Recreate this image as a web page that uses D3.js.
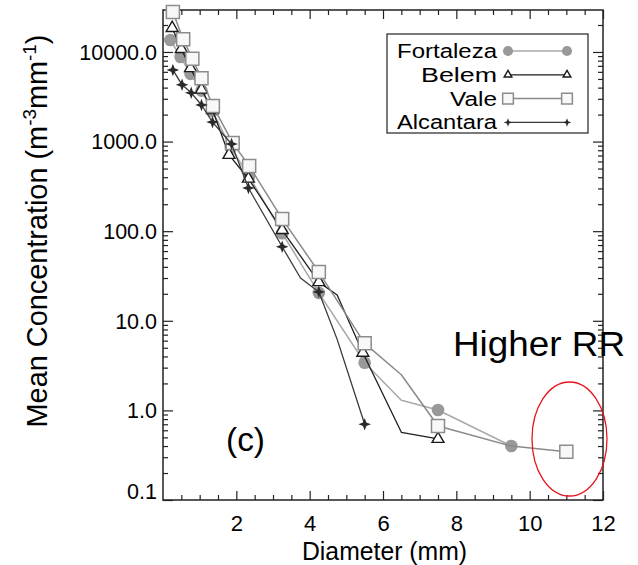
<!DOCTYPE html>
<html>
<head>
<meta charset="utf-8">
<script src="https://cdn.jsdelivr.net/npm/d3@7"></script>
<style>
  html, body { margin: 0; padding: 0; background: #fff; }
  svg { display: block; }
  text { font-family: "Liberation Sans", Arial, Helvetica, sans-serif; fill: #000; }
</style>
</head>
<body>
<svg id="chart" width="638" height="565"></svg>
<script>
// Mean drop size distributions by site (diameter in mm, concentration in m^-3 mm^-1)
const fortalezaDiam = [0.2, 0.48, 0.75, 1.05, 1.35, 1.85, 2.35, 3.25, 4.25, 5.5, 6.5, 7.5, 9.5];
const fortalezaConc = [13600, 8800, 5700, 3700, 2200, 850, 410, 95, 20.5, 3.4, 1.3, 1.01, 0.40];
const fortalezaMark = [1, 1, 1, 1, 1, 1, 1, 1, 1, 1, 0, 1, 1];

const belemDiam = [0.25, 0.5, 0.75, 1.05, 1.35, 1.8, 2.33, 3.25, 4.25, 4.75, 5.45, 6.5, 7.5];
const belemConc = [18500, 10800, 6600, 3800, 2250, 710, 385, 103, 27, 19.4, 4.4, 0.57, 0.48];
const belemMark = [1, 1, 1, 1, 1, 1, 1, 1, 1, 0, 1, 0, 1];

const valeDiam = [0.27, 0.55, 0.8, 1.05, 1.36, 1.9, 2.35, 3.25, 4.25, 5.5, 6.5, 7.5, 9.5, 11];
const valeConc = [27900, 13900, 8400, 5100, 2500, 965, 535, 137, 35, 5.6, 2.5, 0.67, 0.40, 0.345];
const valeMark = [1, 1, 1, 1, 1, 1, 1, 1, 1, 1, 0, 1, 0, 1];

const alcantaraDiam = [0.27, 0.52, 0.77, 1.05, 1.35, 1.87, 2.33, 3.25, 3.75, 4.25, 4.75, 5.5];
const alcantaraConc = [6300, 4300, 3500, 2560, 1650, 940, 303, 67, 30, 21, 6.2, 0.70];
const alcantaraMark = [1, 1, 1, 1, 1, 1, 1, 1, 0, 1, 0, 1];

const seriesNames = ["Fortaleza", "Belem", "Vale", "Alcantara"];
const xTicks = [2, 4, 6, 8, 10, 12];
const yTicks = [0.1, 1, 10, 100, 1000, 10000];
const yTickLabels = ["0.1", "1.0", "10.0", "100.0", "1000.0", "10000.0"];

// Four-pointed star symbol
const symbolStar4 = {
  draw(context, size) {
    const r = Math.sqrt(size) * 0.95;
    const ri = r * 0.38;
    for (let i = 0; i < 8; i++) {
      const a = -Math.PI / 2 + i * Math.PI / 4;
      const rr = i % 2 === 0 ? r : ri;
      const px = Math.cos(a) * rr, py = Math.sin(a) * rr;
      if (i === 0) context.moveTo(px, py); else context.lineTo(px, py);
    }
    context.closePath();
  }
};

const styles = {
  Fortaleza: { line: "#a8a8a8", lw: 1.5, type: d3.symbolCircle, size: 125, fill: "#999", stroke: "none", sw: 0, lsize: 80 },
  Belem:     { line: "#1e1e1e", lw: 1.3, type: d3.symbolTriangle, size: 62, fill: "#fff", stroke: "#1a1a1a", sw: 1.4, lsize: 26 },
  Vale:      { line: "#8a8a8a", lw: 1.5, type: d3.symbolSquare, size: 170, fill: "#f8f8f8", stroke: "#8c8c8c", sw: 1.5, lsize: 115 },
  Alcantara: { line: "#3a3a3a", lw: 1.3, type: symbolStar4, size: 44, fill: "#2a2a2a", stroke: "none", sw: 0, lsize: 20 }
};

const data = {
  Fortaleza: d3.zip(fortalezaDiam, fortalezaConc, fortalezaMark),
  Belem: d3.zip(belemDiam, belemConc, belemMark),
  Vale: d3.zip(valeDiam, valeConc, valeMark),
  Alcantara: d3.zip(alcantaraDiam, alcantaraConc, alcantaraMark)
};

const svg = d3.select("#chart");
const plotLeft = 163, plotRight = 603, plotTop = 10, plotBottom = 500;

const x = d3.scaleLinear().domain([0, 12]).range([plotLeft, plotRight]);
const y = d3.scaleLog().domain([0.1, 29400]).range([plotBottom, plotTop]);

const axisColor = "#222";

// Stretch a text element's glyphs to a given width
function fitWidth(sel, w) {
  sel.attr("textLength", w).attr("lengthAdjust", "spacingAndGlyphs");
}

// Minor tick values
const xMinor = d3.range(0.5, 12, 0.5).filter(v => v % 2 !== 0);
const yMinor = [];
for (let e = -1; e < 5; e++) for (let m = 2; m <= 9; m++) {
  const v = m * Math.pow(10, e);
  if (v < 29400) yMinor.push(v);
}

function styleAxis(g) {
  g.select(".domain").remove();
  g.selectAll(".tick line").attr("stroke", axisColor).attr("stroke-width", 1.2);
}

// Bottom axis
const gx = svg.append("g").attr("transform", `translate(0,${plotBottom})`)
  .call(d3.axisBottom(x).tickValues(xTicks).tickSize(-9).tickPadding(15).tickFormat(d3.format("d")))
  .call(styleAxis);
gx.selectAll(".tick text").attr("font-size", 22).attr("font-family", "Liberation Sans, Arial, sans-serif");
svg.append("g").attr("transform", `translate(0,${plotBottom})`)
  .call(d3.axisBottom(x).tickValues(xMinor).tickSize(-5).tickFormat(""))
  .call(styleAxis);

// Top axis
svg.append("g").attr("transform", `translate(0,${plotTop})`)
  .call(d3.axisTop(x).tickValues(xTicks).tickSize(-9).tickFormat(""))
  .call(styleAxis);
svg.append("g").attr("transform", `translate(0,${plotTop})`)
  .call(d3.axisTop(x).tickValues(xMinor).tickSize(-5).tickFormat(""))
  .call(styleAxis);

// Left axis
const gy = svg.append("g").attr("transform", `translate(${plotLeft},0)`)
  .call(d3.axisLeft(y).tickValues(yTicks).tickSize(-10).tickPadding(6)
    .tickFormat((d, i) => yTickLabels[i]))
  .call(styleAxis);
gy.selectAll(".tick text").attr("font-size", 21.5).attr("font-family", "Liberation Sans, Arial, sans-serif")
  .attr("dy", (d) => d === 0.1 ? "-0.05em" : "0.34em");
svg.append("g").attr("transform", `translate(${plotLeft},0)`)
  .call(d3.axisLeft(y).tickValues(yMinor).tickSize(-5).tickFormat(""))
  .call(styleAxis);

// Right axis
svg.append("g").attr("transform", `translate(${plotRight},0)`)
  .call(d3.axisRight(y).tickValues(yTicks).tickSize(-10).tickFormat(""))
  .call(styleAxis);
svg.append("g").attr("transform", `translate(${plotRight},0)`)
  .call(d3.axisRight(y).tickValues(yMinor).tickSize(-5).tickFormat(""))
  .call(styleAxis);

// Plot frame
svg.append("rect")
  .attr("x", plotLeft).attr("y", plotTop).attr("width", plotRight - plotLeft).attr("height", plotBottom - plotTop)
  .attr("fill", "none").attr("stroke", axisColor).attr("stroke-width", 1.5);

// Series lines and markers
const plot = svg.append("g");
const line = d3.line().x(d => x(d[0])).y(d => y(d[1]));
seriesNames.forEach(name => {
  const s = styles[name];
  const g = plot.append("g");
  g.append("path").datum(data[name])
    .attr("d", line).attr("fill", "none")
    .attr("stroke", s.line).attr("stroke-width", s.lw).attr("stroke-linejoin", "round");
  g.selectAll("path.mk").data(data[name].filter(d => d[2]))
    .join("path").attr("class", "mk")
    .attr("transform", d => `translate(${x(d[0])},${y(d[1])})`)
    .attr("d", d3.symbol(s.type, s.size))
    .attr("fill", s.fill).attr("stroke", s.stroke).attr("stroke-width", s.sw);
});

// Legend
const legendWidths = [100, 76, 47, 100];
const legend = svg.append("g");
legend.append("rect").attr("x", 387).attr("y", 34).attr("width", 201).attr("height", 99)
  .attr("fill", "#fff").attr("stroke", "#333").attr("stroke-width", 1.3);
seriesNames.forEach((name, i) => {
  const s = styles[name];
  const ly = 51 + i * 23.8;
  legend.append("text").attr("x", 497 - legendWidths[i]).attr("y", ly).attr("dy", "0.36em")
    .attr("font-size", 19.5).text(name)
    .call(fitWidth, legendWidths[i]);
  legend.append("line").attr("x1", 508).attr("x2", 567).attr("y1", ly).attr("y2", ly)
    .attr("stroke", s.line).attr("stroke-width", s.lw);
  [508, 567].forEach(lx => {
    legend.append("path").attr("transform", `translate(${lx},${ly})`)
      .attr("d", d3.symbol(s.type, s.lsize))
      .attr("fill", s.fill).attr("stroke", s.stroke).attr("stroke-width", s.sw);
  });
});

// Axis titles
svg.append("text").attr("x", 302).attr("y", 560)
  .attr("font-size", 25).text("Diameter (mm)")
  .call(fitWidth, 165);
const yt = svg.append("text").attr("transform", "translate(47,231) rotate(-90)")
  .attr("text-anchor", "middle").attr("font-size", 26);
yt.append("tspan").text("Mean Concentration (m");
yt.append("tspan").attr("font-size", 17).attr("dy", "-0.6em").text("-3");
yt.append("tspan").attr("dy", "0.39em").text("mm");
yt.append("tspan").attr("font-size", 17).attr("dy", "-0.6em").text("-1");
yt.append("tspan").attr("dy", "0.39em").text(")");
// scale the title so it spans the full label height
const ytLen = yt.node().getComputedTextLength();
yt.attr("font-size", 26 * 393 / ytLen);
yt.selectAll("tspan").filter((d, i) => i === 1 || i === 3).attr("font-size", 17 * 393 / ytLen);

// Panel label and annotation
svg.append("text").attr("x", 226).attr("y", 451)
  .attr("font-family", "Lato, 'Open Sans', sans-serif").attr("font-size", 34).text("(c)")
  .call(fitWidth, 39);
svg.append("text").attr("x", 453).attr("y", 356)
  .attr("font-family", "Lato, 'Open Sans', sans-serif").attr("font-size", 35).text("Higher RR")
  .call(fitWidth, 172);
svg.append("ellipse").attr("cx", 569.5).attr("cy", 439).attr("rx", 37.5).attr("ry", 57)
  .attr("fill", "none").attr("stroke", "#e8141c").attr("stroke-width", 1.3);
</script>
</body>
</html>
